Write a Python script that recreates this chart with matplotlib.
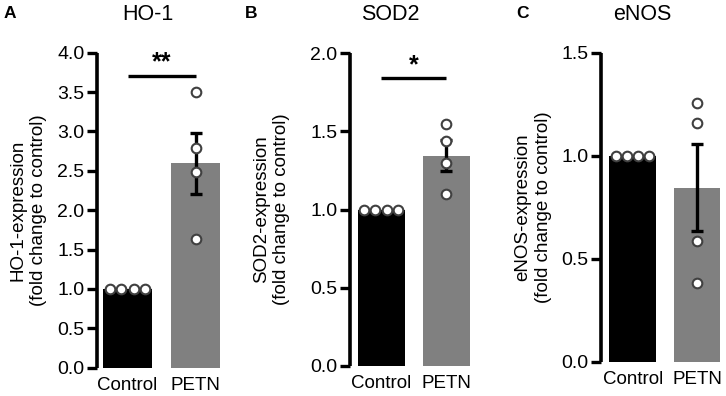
import matplotlib
matplotlib.use('Agg')
import matplotlib.pyplot as plt
import numpy as np

plt.rcParams['font.family'] = ['Liberation Sans', 'DejaVu Sans']

# ---------------------------------------------------------------- data
groups = ['Control', 'PETN']
panel_letters = ['A', 'B', 'C']
titles = ['HO-1', 'SOD2', 'eNOS']
ylabels = ['HO-1-expression', 'SOD2-expression', 'eNOS-expression']

ho1_mean = [1.0, 2.595]
ho1_sem = [0.0, 0.385]
ho1_petn_pts = [3.50, 2.79, 2.49, 1.63]

sod2_mean = [1.0, 1.345]
sod2_sem = [0.0, 0.10]
sod2_petn_pts = [1.545, 1.44, 1.296, 1.10]

enos_mean = [1.0, 0.845]
enos_sem = [0.0, 0.211]
enos_petn_pts = [1.254, 1.157, 0.587, 0.38]

control_pts = [1.0, 1.0, 1.0, 1.0]

ytops = [4.0, 2.0, 1.5]
sig_y = [3.71, 1.84, None]
sig_txt = ['**', '*', None]

# ---------------------------------------------------------------- layout
W, H = 726, 396
fig = plt.figure(figsize=(W / 100, H / 100), dpi=100)
fig.patch.set_facecolor('white')

# (axis x px, unit px, xlim, y0 px, ytop px, ylabel right edge px)
geo = [
    (97, 68, (-0.45, 1.45), 367.7, 52.7, 47),
    (349.7, 65, (-0.485, 1.45), 365.7, 53.3, 290.5),
    (600.7, 64.5, (-0.496, 1.36), 361.7, 52.7, 552),
]
title_x = [148, 390, 642]
letter_x = [4, 245, 516]

BAR_COLS = ['#000000', '#808080']
means = [ho1_mean, sod2_mean, enos_mean]
sems = [ho1_sem, sod2_sem, enos_sem]
pts = [ho1_petn_pts, sod2_petn_pts, enos_petn_pts]
ctrl_off = np.array([-0.26, -0.09, 0.09, 0.26])

for i in range(3):
    axx, unit, xl, y0, yt, lab_r = geo[i]
    width_px = (xl[1] - xl[0]) * unit
    ax = fig.add_axes([axx / W, (H - y0) / H, width_px / W, (y0 - yt) / H])
    ax.set_xlim(*xl)
    ax.set_ylim(0, ytops[i])

    ax.bar([0, 1], means[i], width=0.72, color=BAR_COLS, zorder=2)
    ax.errorbar(1, means[i][1], yerr=sems[i][1], fmt='none', ecolor='black',
                elinewidth=2.4, capsize=4, capthick=2.4, zorder=3)
    ax.scatter(ctrl_off, control_pts, s=48, facecolor='white',
               edgecolor='#404040', linewidth=1.5, zorder=4, clip_on=False)
    ax.scatter([1] * len(pts[i]), pts[i], s=48, facecolor='white',
               edgecolor='#404040', linewidth=1.5, zorder=4, clip_on=False)

    if sig_y[i] is not None:
        ax.plot([0, 1], [sig_y[i]] * 2, color='black', lw=2.4,
                solid_capstyle='butt', clip_on=False)
        ax.text(0.5, sig_y[i] + ytops[i] * 0.004, sig_txt[i], ha='center',
                va='bottom', fontsize=18, fontweight='bold')

    for s in ['top', 'right', 'bottom']:
        ax.spines[s].set_visible(False)
    ax.spines['left'].set_linewidth(2.6)
    ax.spines['left'].set_capstyle('butt')
    ticks = np.arange(0, ytops[i] + 0.01, 0.5)
    ax.set_yticks(ticks)
    ax.set_yticklabels([f'{v:.1f}' for v in ticks])
    ax.tick_params(axis='y', length=7, width=2.4, labelsize=14, pad=2)
    ax.set_xticks([0, 1])
    ax.set_xticklabels(groups)
    ax.tick_params(axis='x', length=0, labelsize=13.5, pad=7)
    ax.set_ylabel(ylabels[i] + '\n(fold change to control)', fontsize=13.5,
                  linespacing=1.25)
    ax.yaxis.set_label_coords((lab_r - axx) / width_px, 0.5)

    fig.text(title_x[i] / W, 1 - 14 / H, titles[i], ha='center', va='center',
             fontsize=15.5)
    fig.text(letter_x[i] / W, 1 - 14 / H, panel_letters[i], ha='left',
             va='center', fontsize=12.5, fontweight='bold')

fig.savefig('out.png', dpi=100, facecolor='white')
